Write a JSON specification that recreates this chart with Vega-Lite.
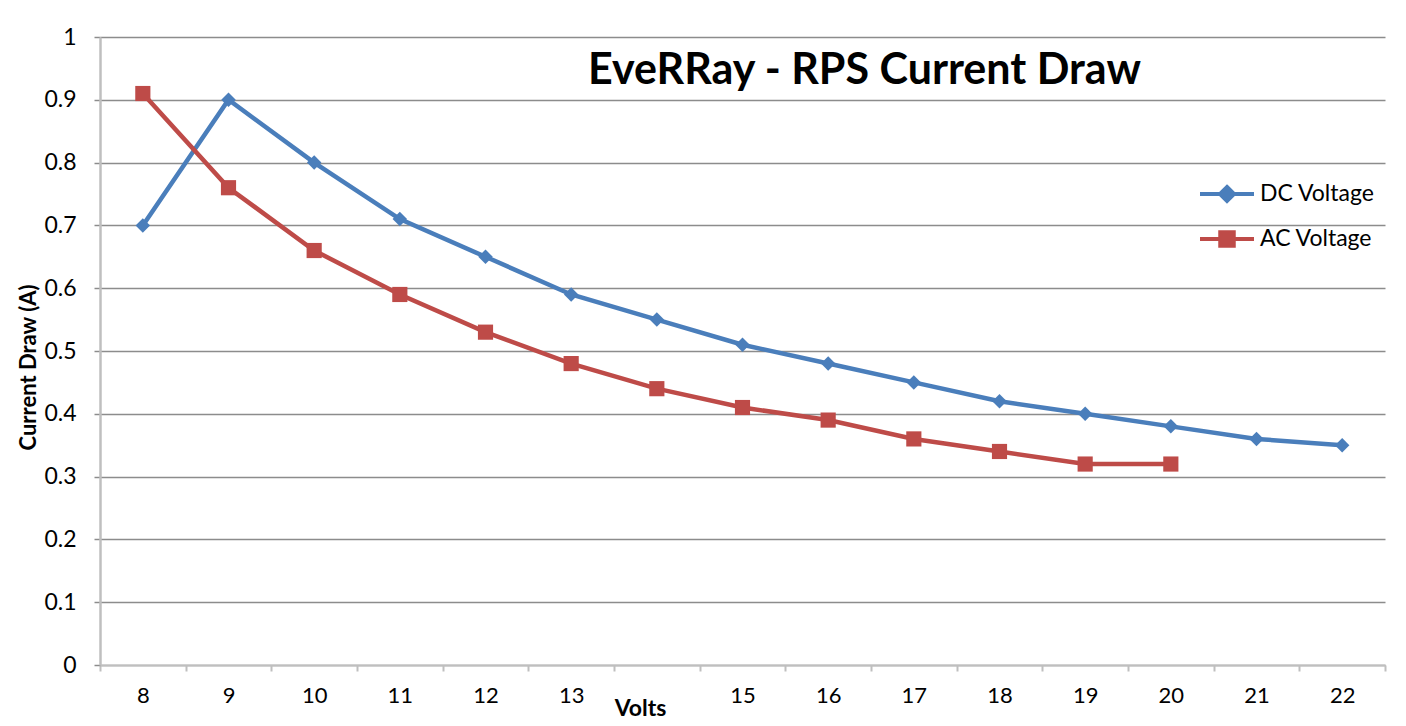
{
  "$schema": "https://vega.github.io/schema/vega-lite/v6.json",
  "autosize": "none",
  "width": 1285,
  "height": 628,
  "padding": {"left": 100, "top": 37, "right": 21, "bottom": 61},
  "background": "white",
  "title": {
    "text": "EveRRay - RPS Current Draw",
    "font": "Lato",
    "fontSize": 43,
    "fontWeight": "bold",
    "color": "#000000",
    "anchor": "middle",
    "baseline": "middle",
    "offset": 0,
    "dx": 122,
    "dy": 88
  },
  "config": {
    "view": {"stroke": null},
    "font": "Lato"
  },
  "data": {
    "values": [
      {"volts": 8, "series": "DC Voltage", "amps": 0.70},
      {"volts": 9, "series": "DC Voltage", "amps": 0.90},
      {"volts": 10, "series": "DC Voltage", "amps": 0.80},
      {"volts": 11, "series": "DC Voltage", "amps": 0.71},
      {"volts": 12, "series": "DC Voltage", "amps": 0.65},
      {"volts": 13, "series": "DC Voltage", "amps": 0.59},
      {"volts": 14, "series": "DC Voltage", "amps": 0.55},
      {"volts": 15, "series": "DC Voltage", "amps": 0.51},
      {"volts": 16, "series": "DC Voltage", "amps": 0.48},
      {"volts": 17, "series": "DC Voltage", "amps": 0.45},
      {"volts": 18, "series": "DC Voltage", "amps": 0.42},
      {"volts": 19, "series": "DC Voltage", "amps": 0.40},
      {"volts": 20, "series": "DC Voltage", "amps": 0.38},
      {"volts": 21, "series": "DC Voltage", "amps": 0.36},
      {"volts": 22, "series": "DC Voltage", "amps": 0.35},
      {"volts": 8, "series": "AC Voltage", "amps": 0.91},
      {"volts": 9, "series": "AC Voltage", "amps": 0.76},
      {"volts": 10, "series": "AC Voltage", "amps": 0.66},
      {"volts": 11, "series": "AC Voltage", "amps": 0.59},
      {"volts": 12, "series": "AC Voltage", "amps": 0.53},
      {"volts": 13, "series": "AC Voltage", "amps": 0.48},
      {"volts": 14, "series": "AC Voltage", "amps": 0.44},
      {"volts": 15, "series": "AC Voltage", "amps": 0.41},
      {"volts": 16, "series": "AC Voltage", "amps": 0.39},
      {"volts": 17, "series": "AC Voltage", "amps": 0.36},
      {"volts": 18, "series": "AC Voltage", "amps": 0.34},
      {"volts": 19, "series": "AC Voltage", "amps": 0.32},
      {"volts": 20, "series": "AC Voltage", "amps": 0.32}
    ]
  },
  "encoding": {
    "x": {
      "field": "volts",
      "type": "ordinal",
      "scale": {"type": "band", "paddingInner": 0, "paddingOuter": 0},
      "axis": {
        "title": "Volts",
        "titleFont": "Lato",
        "titleFontSize": 23,
        "titleFontWeight": "bold",
        "titleColor": "#000000",
        "titleX": 540,
        "titleY": 43,
        "titleBaseline": "middle",
        "labelAngle": 0,
        "labelFont": "Lato",
        "labelFontSize": 22,
        "labelColor": "#000000",
        "labelPadding": 14,
        "labelExpr": "datum.value == 14 ? '' : datum.label",
        "tickBand": "extent",
        "tickColor": "#BFBFBF",
        "tickSize": 6,
        "tickWidth": 2,
        "domainColor": "#BFBFBF",
        "domainWidth": 2,
        "grid": false
      }
    },
    "y": {
      "field": "amps",
      "type": "quantitative",
      "scale": {"domain": [0, 1], "nice": false},
      "axis": {
        "title": "Current Draw (A)",
        "titleFont": "Lato",
        "titleFontSize": 22,
        "titleFontWeight": "bold",
        "titleColor": "#000000",
        "titleX": -60,
        "titleY": 330,
        "titleAlign": "center",
        "values": [0, 0.1, 0.2, 0.3, 0.4, 0.5, 0.6, 0.7, 0.8, 0.9, 1],
        "format": "~g",
        "labelFont": "Lato",
        "labelFontSize": 23,
        "labelColor": "#000000",
        "labelPadding": 18,
        "grid": true,
        "gridColor": "#8C8C8C",
        "gridWidth": 1.5,
        "tickColor": "#8C8C8C",
        "tickSize": 6,
        "tickWidth": 1.5,
        "domainColor": "#BFBFBF",
        "domainWidth": 2.5
      }
    }
  },
  "layer": [
    {
      "mark": {"type": "line", "strokeWidth": 4.5},
      "encoding": {
        "order": {"field": "volts", "type": "quantitative"},
        "color": {
          "field": "series",
          "type": "nominal",
          "sort": ["DC Voltage", "AC Voltage"],
          "scale": {"domain": ["DC Voltage", "AC Voltage"], "range": ["#4A7EBB", "#BE4B48"]},
          "legend": {
            "title": null,
            "orient": "none",
            "legendX": 1098,
            "legendY": 128,
            "labelFont": "Lato",
            "labelFontSize": 23,
            "labelColor": "#000000",
            "labelOffset": 4,
            "rowPadding": -6,
            "symbolSize": 2916,
            "symbolStrokeWidth": 4,
            "encode": {
              "symbols": {
                "update": {
                  "shape": {"signal": "datum.value === 'DC Voltage' ? 'M-1,0H1M0,-0.26L0.26,0L0,0.26L-0.26,0Z' : 'M-1,0H1M-0.25,-0.25H0.25V0.25H-0.25Z'"},
                  "fill": {"signal": "datum.value === 'DC Voltage' ? '#4A7EBB' : '#BE4B48'"},
                  "stroke": {"signal": "datum.value === 'DC Voltage' ? '#4A7EBB' : '#BE4B48'"},
                  "strokeWidth": {"value": 4}
                }
              }
            }
          }
        }
      }
    },
    {
      "transform": [{"filter": "datum.series === 'DC Voltage'"}],
      "mark": {"type": "point", "filled": true, "opacity": 1, "shape": "diamond", "size": 210, "color": "#4A7EBB"}
    },
    {
      "transform": [{"filter": "datum.series === 'AC Voltage'"}],
      "mark": {"type": "point", "filled": true, "opacity": 1, "shape": "square", "size": 230, "color": "#BE4B48"}
    }
  ]
}
